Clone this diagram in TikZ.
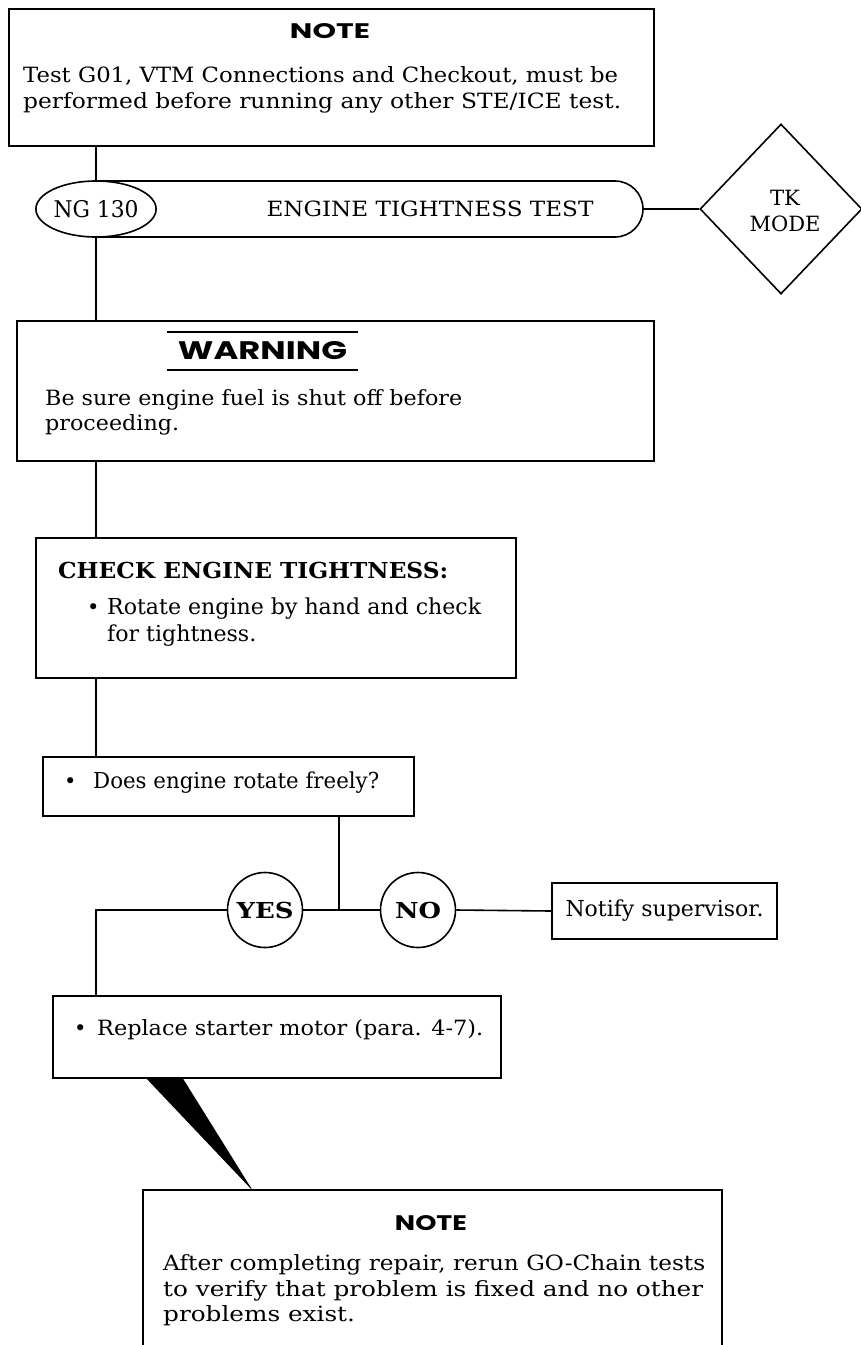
\documentclass[tikz,border=0pt]{standalone}
\usepackage{graphicx}
\usepackage{fontspec}
\setmainfont{DejaVu Serif}
\newfontfamily\headfont{Poppins}
\usetikzlibrary{shapes.geometric,calc}
\newsavebox\fitbox
\newlength\fitlen
\newcommand\fitline[2]{\sbox\fitbox{#2}\setlength\fitlen{\wd\fitbox}\pgfmathsetmacro\fitfac{#1/\fitlen}\global\let\lastfac\fitfac\scalebox{\fitfac}[1]{\usebox\fitbox}}
\newcommand\samefit[1]{\scalebox{\lastfac}[1]{#1}}
\newcommand\head[3]{\resizebox{#1pt}{#2pt}{\headfont\bfseries #3}}
\tikzset{
  box/.style={draw, line width=1.6pt, inner sep=0pt, anchor=north west},
  conn/.style={line width=1.6pt},
  txt/.style={inner sep=0pt, anchor=mid west, font=\fontsize{21}{24}\selectfont},
  ctxt/.style={inner sep=0pt, font=\fontsize{21}{24}\selectfont},
  big/.style={font=\fontsize{22}{24}\selectfont},
}
\begin{document}
\begin{tikzpicture}[x=1pt,y=-1pt]
\useasboundingbox (0,0) rectangle (861,1345);
\fill[white] (0,0) rectangle (861,1345);
\coordinate (colx) at (96,0);

% top note
\node[box, minimum width=645pt, minimum height=137pt] (note1) at (8,8) {};
\node[ctxt] (n1t) at (330,31) {\head{80}{15}{NOTE}};
\node[txt] (n1a) at (23,80) {\fitline{595}{Test G01, VTM Connections and Checkout, must be}};
\node[txt] (n1b) at (23,106) {\fitline{598}{performed before running any other STE/ICE test.}};

% terminal
\node[draw, line width=1.6pt, rounded corners=28pt, minimum width=573pt, minimum height=56pt, inner sep=0pt] (term) at (356.5,209) {};
\node[draw, line width=1.6pt, ellipse, fill=white, minimum width=98pt, minimum height=56pt, inner sep=0pt, font=\fontsize{23}{24}\selectfont] (ng) at (96,209) {\fitline{85}{NG 130}};
\node[ctxt] (tt) at (430,209) {\fitline{327}{ENGINE TIGHTNESS TEST}};
\node[draw, line width=1.6pt, diamond, minimum width=162pt, minimum height=170pt, inner sep=0pt] (tk) at (781,209) {};
\node[ctxt, align=center] (tkt) at (785,211) {\fitline{30}{TK}\\[2pt]\fitline{71}{MODE}};
\draw[conn] (note1.south -| colx) -- (ng.north);
\draw[conn] (term.east) -- (tk.west);

% warning
\node[box, minimum width=637pt, minimum height=140pt] (warn) at (16,320) {};
\node[inner sep=0pt, minimum width=191pt, minimum height=38pt] (wt) at (262.5,351) {\head{169}{18}{WARNING}};
\draw[conn] (wt.north west) -- (wt.north east) (wt.south west) -- (wt.south east);
\node[txt] (w1) at (45,403) {\fitline{417}{Be sure engine fuel is shut off before}};
\node[txt] (w2) at (45,428) {\samefit{proceeding.}};
\draw[conn] (ng.south) -- (warn.north -| ng.south);

% check
\node[box, minimum width=480pt, minimum height=140pt] (check) at (35,537) {};
\node[txt, big] (c1) at (58,576) {\fitline{390}{\bfseries CHECK ENGINE TIGHTNESS:}};
\node[txt] (cb) at (87,612) {\textbullet};
\node[txt, big] (c2) at (107,612) {\fitline{374}{Rotate engine by hand and check}};
\node[txt, big] (c3) at (107,639) {\samefit{for tightness.}};
\draw[conn] (warn.south -| colx) -- (check.north -| colx);

% does
\node[box, minimum width=371pt, minimum height=59pt] (does) at (42,756) {};
\node[txt] (db) at (64,786) {\textbullet};
\node[txt, big] (d1) at (93,786) {\fitline{286}{Does engine rotate freely?}};
\draw[conn] (check.south -| colx) -- (does.north -| colx);

% yes / no
\coordinate (jn) at (339,910);
\node[draw, line width=1.6pt, circle, minimum size=75pt, inner sep=0pt, font=\fontsize{22}{24}\selectfont\bfseries] (yes) at (265,910) {\fitline{57}{YES}};
\node[draw, line width=1.6pt, circle, minimum size=75pt, inner sep=0pt, font=\fontsize{22}{24}\selectfont\bfseries] (no) at (418,910) {\fitline{46}{NO}};
\node[draw, line width=1.6pt, inner sep=0pt, minimum width=225pt, minimum height=56pt, big] (notify) at (664.5,911) {\fitline{198}{Notify supervisor.}};
\draw[conn] (does.south -| jn) -- (jn);
\draw[conn] (yes.east) -- (no.west);
\draw[conn] (no.east) -- (notify.west);

% replace
\node[box, minimum width=448pt, minimum height=82pt] (repl) at (52,995) {};
\node[txt] (rb) at (74,1033) {\textbullet};
\node[txt] (r1) at (97,1033) {\fitline{386}{Replace starter motor (para. 4-7).}};
\draw[conn] (yes.west) -| (repl.north -| colx);

% wedge
\coordinate (wa) at (145,1077);
\coordinate (wb) at (182,1077);
\coordinate (wc) at (253,1191);
\fill (wa) -- (wc) -- (wb) -- cycle;

% bottom note
\coordinate (b1) at (143,1345);
\coordinate (b2) at (143,1190);
\coordinate (b3) at (722,1190);
\coordinate (b4) at (722,1345);
\draw[conn] (b1) -- (b2) -- (b3) -- (b4);
\node[ctxt] (n2t) at (431,1223) {\head{72}{15}{NOTE}};
\node[txt] (n2a) at (163,1268) {\fitline{542}{After completing repair, rerun GO-Chain tests}};
\node[txt] (n2b) at (163,1294) {\fitline{540}{to verify that problem is fixed and no other}};
\node[txt] (n2c) at (163,1319) {\samefit{problems exist.}};
\end{tikzpicture}
\end{document}
